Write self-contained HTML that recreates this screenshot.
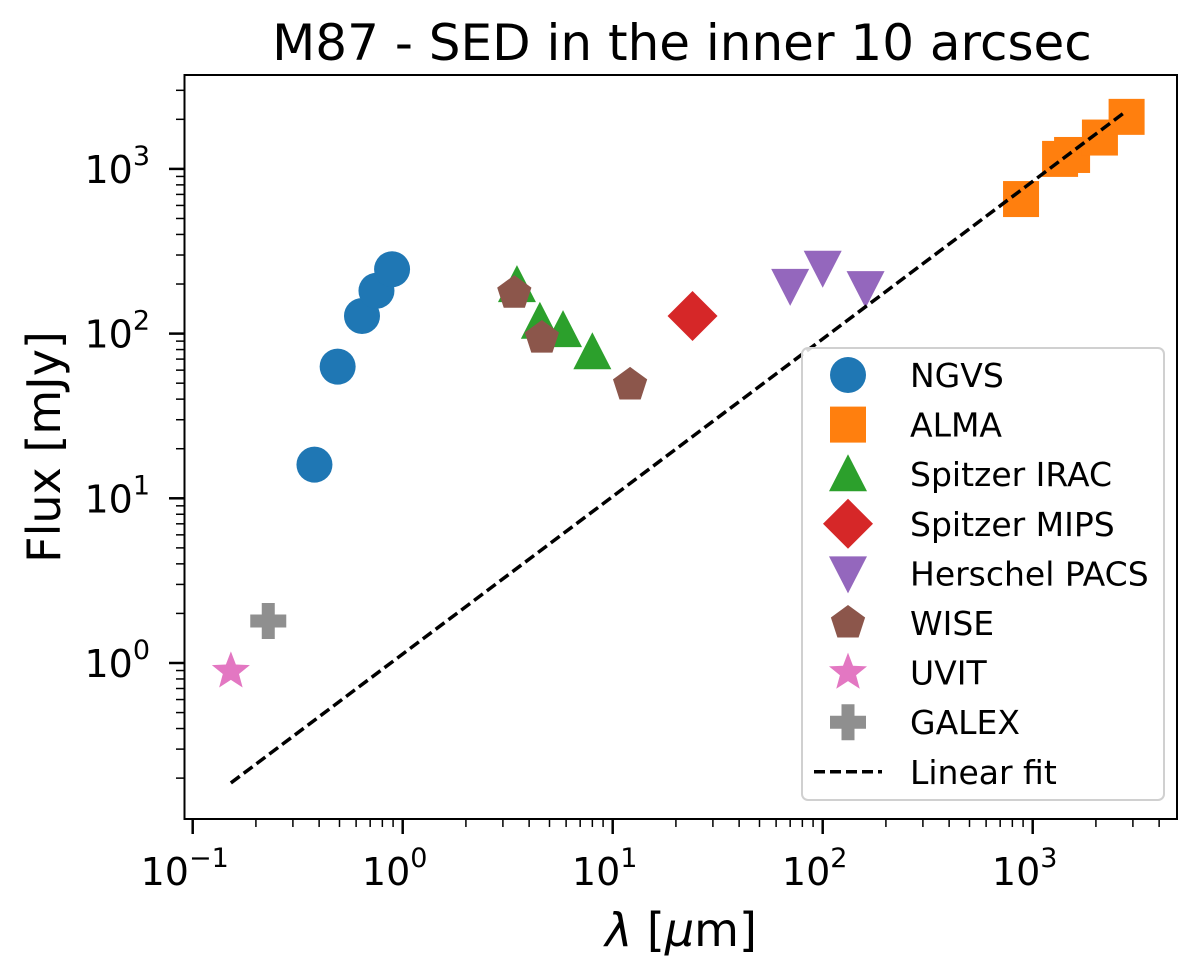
<!DOCTYPE html>
<html><head><meta charset="utf-8"><style>
html,body{margin:0;padding:0;background:#fff;}
svg text{font-family:"DejaVu Sans","Liberation Sans",sans-serif;fill:#000;}
</style></head><body>
<svg id="chart" width="1200" height="972" xmlns="http://www.w3.org/2000/svg">
<text x="682" y="60" font-size="50" text-anchor="middle">M87 - SED in the inner 10 arcsec</text>
<g id="grid"></g>
<g id="marks"></g>
<rect x="184.5" y="75" width="992.5" height="744" fill="none" stroke="#000" stroke-width="2"/>
<text x="681" y="946" font-size="46" text-anchor="middle"><tspan font-style="italic">λ</tspan> [<tspan font-style="italic">μ</tspan>m]</text>
<text transform="translate(60,447) rotate(-90)" font-size="46" text-anchor="middle">Flux [mJy]</text>
<g id="legend"></g>
</svg>
<script>
const ngvsX=[0.38,0.49,0.64,0.75,0.89];
const ngvsY=[16,63,128,182,246];
const almaX=[880,1350,1540,2090,2800];
const almaY=[656,1150,1215,1550,2070];
const iracX=[3.5,4.5,5.8,8.0];
const iracY=[197,118,105,77];
const mipsX=[24];
const mipsY=[128];
const pacsX=[70,100,160];
const pacsY=[195,251,189];
const wiseX=[3.4,4.6,12.1];
const wiseY=[176,94,48.8];
const uvitX=[0.152];
const uvitY=[0.89];
const galexX=[0.229];
const galexY=[1.8];
const fitX=[0.152,2800];
const fitY=[0.187,2250];
const xTickLabels=["-1","0","1","2","3"];
const yTickLabels=["0","1","2","3"];

const NS="http://www.w3.org/2000/svg";
const X=v=>192.7+210*(Math.log10(v)+1);
const Y=v=>663-164.7*Math.log10(v);
function mk(tag,attrs,parent){const e=document.createElementNS(NS,tag);for(const k in attrs)e.setAttribute(k,attrs[k]);parent.appendChild(e);return e;}
const grid=document.getElementById('grid'),marks=document.getElementById('marks'),leg=document.getElementById('legend');
for(let d=-1;d<=3;d++){
  const x=X(Math.pow(10,d));
  const t=mk('line',{x1:x,x2:x,y1:819,y2:834,stroke:'#000','stroke-width':2.5},grid);
  
  const lb=mk('text',{x:x-8,y:885,'font-size':38,'text-anchor':'middle'},grid);
  
  lb.textContent='10';
  const s=mk('tspan',{dy:-18,'font-size':27},lb);s.textContent=xTickLabels[d+1].replace('-','−');
  for(let m=2;m<=9;m++){const xm=X(m*Math.pow(10,d));if(xm>1177)break;
    const tm=mk('line',{x1:xm,x2:xm,y1:819,y2:827,stroke:'#000','stroke-width':1.5},grid);
    }
}
for(let m=2;m<=9;m++){const xm=X(m*0.01);if(xm>185){const tm=mk('line',{x1:xm,x2:xm,y1:819,y2:827,stroke:'#000','stroke-width':1.5},grid);}}
for(let d=-1;d<=3;d++){
  if(d>=0){const y=Y(Math.pow(10,d));
    const t=mk('line',{x1:169,x2:184,y1:y,y2:y,stroke:'#000','stroke-width':2.5},grid);
    
    const lb=mk('text',{x:150,y:y+14,'font-size':38,'text-anchor':'end'},grid);
    
    lb.textContent='10';
    const s=mk('tspan',{dy:-18,'font-size':27},lb);s.textContent=yTickLabels[d];}
  for(let m=2;m<=9;m++){const ym=Y(m*Math.pow(10,d));if(ym<75||ym>819)continue;
    const tm=mk('line',{x1:176,x2:184,y1:ym,y2:ym,stroke:'#000','stroke-width':1.5},grid);
    }
}
function marker(type,cx,cy,color,parent){
  let e;
  if(type==='o')e=mk('circle',{cx,cy,r:18},parent);
  else if(type==='s')e=mk('rect',{x:cx-18,y:cy-18,width:36,height:36},parent);
  else if(type==='^')e=mk('polygon',{points:`${cx},${cy-20} ${cx+19},${cy+17} ${cx-19},${cy+17}`},parent);
  else if(type==='v')e=mk('polygon',{points:`${cx},${cy+20} ${cx+19},${cy-17} ${cx-19},${cy-17}`},parent);
  else if(type==='D')e=mk('polygon',{points:`${cx},${cy-25} ${cx+25},${cy} ${cx},${cy+25} ${cx-25},${cy}`},parent);
  else if(type==='p'){let p=[];for(let i=0;i<5;i++){const a=-Math.PI/2+i*2*Math.PI/5;p.push((cx+18*Math.cos(a))+','+(cy+18*Math.sin(a)));}e=mk('polygon',{points:p.join(' ')},parent);}
  else if(type==='*'){let p=[];for(let i=0;i<10;i++){const a=-Math.PI/2+i*Math.PI/5;const r=i%2?8.5:20;p.push((cx+r*Math.cos(a))+','+(cy+r*Math.sin(a)));}e=mk('polygon',{points:p.join(' ')},parent);}
  else if(type==='P'){const a=6.5,b=18;e=mk('polygon',{points:`${cx-a},${cy-b} ${cx+a},${cy-b} ${cx+a},${cy-a} ${cx+b},${cy-a} ${cx+b},${cy+a} ${cx+a},${cy+a} ${cx+a},${cy+b} ${cx-a},${cy+b} ${cx-a},${cy+a} ${cx-b},${cy+a} ${cx-b},${cy-a} ${cx-a},${cy-a}`},parent);}
  e.setAttribute('fill',color);
  return e;
}
const series=[
 ['NGVS','o','#1f77b4',ngvsX,ngvsY],
 ['ALMA','s','#ff7f0e',almaX,almaY],
 ['Spitzer IRAC','^','#2ca02c',iracX,iracY],
 ['Spitzer MIPS','D','#d62728',mipsX,mipsY],
 ['Herschel PACS','v','#9467bd',pacsX,pacsY],
 ['WISE','p','#8c564b',wiseX,wiseY],
 ['UVIT','*','#e377c2',uvitX,uvitY],
 ['GALEX','P','#8f8f8f',galexX,galexY]
];
series.forEach(s=>{
  const g=mk('g',{},marks);
  
  
  s[3].forEach((v,i)=>{const e=marker(s[1],X(v),Y(s[4][i]),s[2],g);
    
    });
});
const fl=mk('line',{x1:X(fitX[0]),y1:Y(fitY[0]),x2:X(fitX[1]),y2:Y(fitY[1]),stroke:'#000','stroke-width':3.5,'stroke-dasharray':'11,5'},marks);


const box=mk('rect',{x:802,y:348,width:362,height:452,rx:6,fill:'#fff','fill-opacity':0.85,stroke:'#d0d0d0','stroke-width':2},leg);


const names=series.map(s=>s[0]).concat(['Linear fit']);
names.forEach((n,i)=>{
  const y=375+49.6*i;
  const g=mk('g',{},leg);
  
  
  if(i<8)marker(series[i][1],848,y,series[i][2],g);
  else mk('line',{x1:814,x2:882,y1:y,y2:y,stroke:'#000','stroke-width':3.5,'stroke-dasharray':'11,5'},g);
  const t=mk('text',{x:910,y:y+12,'font-size':33},g);t.textContent=n;
});
</script>
</body></html>
